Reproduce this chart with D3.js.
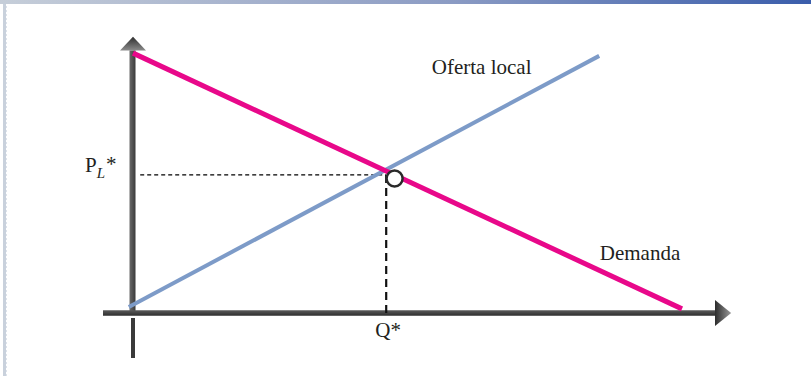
<!DOCTYPE html>
<html>
<head>
<meta charset="utf-8">
<script src="https://d3js.org/d3.v7.min.js"></script>
<style>
  body { margin: 0; background: #fff; }
  .label { font-family: "Liberation Serif", "Times New Roman", serif; fill: #231f20; }
</style>
</head>
<body>
<div id="chart"></div>
<script>
// set dimensions for frame
const FRAME_HEIGHT = 376;
const FRAME_WIDTH = 811;

// origin of the diagram (pixels) and size of one unit on each axis
const ORIGIN = {x: 133, y: 313};
const X_UNIT = 6;
const Y_UNIT = 2.75;

// data: quantity (Q) and price (P), both on a 0-100 scale
const DEMAND_Q = [0, 91.5];
const DEMAND_P = [94.5, 1.5];
const SUPPLY_Q = [-0.7, 77.7];
const SUPPLY_P = [2.2, 93.5];
const EQ_Q = 42.2;      // Q*
const EQ_P = 50.2;      // P_L*
const MARKER_Q = [43.6];  // open circle near the crossing
const MARKER_P = [48.9];
const CURVE_LABELS = ["Oferta local", "Demanda"];
const CURVE_LABEL_Q = [49.8, 77.8];
const CURVE_LABEL_P = [86.8, 19.3];

// scales
const X_SCALE = d3.scaleLinear()
        .domain([0, 100])
        .range([ORIGIN.x, ORIGIN.x + 100 * X_UNIT]);
const Y_SCALE = d3.scaleLinear()
        .domain([0, 100])
        .range([ORIGIN.y, ORIGIN.y - 100 * Y_UNIT]);

const FRAME1 = d3.select("#chart")
                  .append("svg")
                    .attr("height", FRAME_HEIGHT)
                    .attr("width", FRAME_WIDTH);

const defs = FRAME1.append("defs");

// gradient for the bar along the top
const topGrad = defs.append("linearGradient").attr("id", "topbar");
topGrad.append("stop").attr("offset", "0%").attr("stop-color", "#c6ced9");
topGrad.append("stop").attr("offset", "55%").attr("stop-color", "#8c9cc4");
topGrad.append("stop").attr("offset", "100%").attr("stop-color", "#3a5dab");

// gradients for the axes
const vGrad = defs.append("linearGradient").attr("id", "vaxis")
    .attr("x1", 0).attr("x2", 1).attr("y1", 0).attr("y2", 0);
vGrad.append("stop").attr("offset", "0%").attr("stop-color", "#6a6a6a");
vGrad.append("stop").attr("offset", "100%").attr("stop-color", "#3a3a3a");

const hGrad = defs.append("linearGradient").attr("id", "haxis")
    .attr("x1", 0).attr("x2", 0).attr("y1", 0).attr("y2", 1);
hGrad.append("stop").attr("offset", "0%").attr("stop-color", "#5a5a5a");
hGrad.append("stop").attr("offset", "100%").attr("stop-color", "#2e2e2e");

const upArrow = defs.append("linearGradient").attr("id", "uparrow")
    .attr("x1", 0).attr("x2", 0).attr("y1", 0).attr("y2", 1);
upArrow.append("stop").attr("offset", "0%").attr("stop-color", "#2c2c2c");
upArrow.append("stop").attr("offset", "100%").attr("stop-color", "#8a8a8a");

const rightArrow = defs.append("linearGradient").attr("id", "rightarrow")
    .attr("x1", 0).attr("x2", 1).attr("y1", 0).attr("y2", 0);
rightArrow.append("stop").attr("offset", "0%").attr("stop-color", "#2c2c2c");
rightArrow.append("stop").attr("offset", "100%").attr("stop-color", "#9a9a9a");

// slide decoration: top bar and dotted left border
FRAME1.append("rect")
    .attr("x", 0).attr("y", 0)
    .attr("width", FRAME_WIDTH).attr("height", 4)
    .attr("fill", "url(#topbar)");
FRAME1.append("rect")
    .attr("x", 3).attr("y", 4)
    .attr("width", 3).attr("height", FRAME_HEIGHT - 4)
    .attr("fill", "#c9d1dc");
FRAME1.append("line")
    .attr("x1", 6.5).attr("x2", 6.5)
    .attr("y1", 6).attr("y2", FRAME_HEIGHT)
    .attr("stroke", "#dde2ea")
    .attr("stroke-width", 1)
    .attr("stroke-dasharray", "2,2");

// vertical axis (price) with arrow
FRAME1.append("rect")
    .attr("x", X_SCALE(0) - 3.5).attr("y", Y_SCALE(95.5))
    .attr("width", 6).attr("height", ORIGIN.y - Y_SCALE(95.5))
    .attr("fill", "url(#vaxis)");
FRAME1.append("rect")
    .attr("x", X_SCALE(0) - 2).attr("y", ORIGIN.y + 5)
    .attr("width", 4).attr("height", 40)
    .attr("fill", "#3a3a3a");
FRAME1.append("path")
    .attr("d", "M" + (X_SCALE(0) - 13) + "," + Y_SCALE(95.5) +
               " L" + (X_SCALE(0) + 13) + "," + Y_SCALE(95.5) +
               " L" + X_SCALE(0) + "," + Y_SCALE(100.5) + " Z")
    .attr("fill", "url(#uparrow)");

// horizontal axis (quantity) with arrow
FRAME1.append("rect")
    .attr("x", X_SCALE(-5)).attr("y", ORIGIN.y - 2.75)
    .attr("width", X_SCALE(97) - X_SCALE(-5)).attr("height", 5.5)
    .attr("fill", "url(#haxis)");
FRAME1.append("path")
    .attr("d", "M" + X_SCALE(97) + "," + (ORIGIN.y - 13) +
               " L" + X_SCALE(97) + "," + (ORIGIN.y + 13) +
               " L" + X_SCALE(99.7) + "," + ORIGIN.y + " Z")
    .attr("fill", "url(#rightarrow)");

// dashed guides to the equilibrium
FRAME1.append("line")
    .attr("x1", X_SCALE(1.2)).attr("x2", X_SCALE(EQ_Q))
    .attr("y1", Y_SCALE(EQ_P)).attr("y2", Y_SCALE(EQ_P))
    .attr("stroke", "#000")
    .attr("stroke-width", 1.2)
    .attr("stroke-dasharray", "4,3");
FRAME1.append("line")
    .attr("x1", X_SCALE(EQ_Q)).attr("x2", X_SCALE(EQ_Q))
    .attr("y1", Y_SCALE(EQ_P)).attr("y2", ORIGIN.y)
    .attr("stroke", "#111")
    .attr("stroke-width", 2.2)
    .attr("stroke-dasharray", "8,5");

// curves
const line = d3.line()
    .x((d) => { return X_SCALE(d[0]); })
    .y((d) => { return Y_SCALE(d[1]); });

FRAME1.append("path")
    .datum(SUPPLY_Q.map((q, i) => [q, SUPPLY_P[i]]))
    .attr("d", line)
    .attr("fill", "none")
    .attr("stroke", "#7d9bc8")
    .attr("stroke-width", 4);

FRAME1.append("path")
    .datum(DEMAND_Q.map((q, i) => [q, DEMAND_P[i]]))
    .attr("d", line)
    .attr("fill", "none")
    .attr("stroke", "#e8088a")
    .attr("stroke-width", 5);

// open circle marker
FRAME1.selectAll("marker-pt")
    .data(MARKER_Q)
    .enter()
    .append("circle")
      .attr("cx", (d) => { return X_SCALE(d); })
      .attr("cy", (d, i) => { return Y_SCALE(MARKER_P[i]); })
      .attr("r", 8)
      .attr("fill", "#fff")
      .attr("stroke", "#2a2a2a")
      .attr("stroke-width", 2.5);

// curve labels
FRAME1.selectAll("curve-label")
    .data(CURVE_LABELS)
    .enter()
    .append("text")
      .attr("class", "label")
      .attr("x", (d, i) => { return X_SCALE(CURVE_LABEL_Q[i]); })
      .attr("y", (d, i) => { return Y_SCALE(CURVE_LABEL_P[i]); })
      .attr("font-size", "21px")
      .text((d) => { return d; });

// axis labels P_L* and Q*
const pLabel = FRAME1.append("text")
    .attr("class", "label")
    .attr("x", 85)
    .attr("y", 172)
    .attr("font-size", "21px");
pLabel.append("tspan").text("P");
pLabel.append("tspan")
    .attr("font-style", "italic")
    .attr("font-size", "15px")
    .attr("dy", 6)
    .text("L");
pLabel.append("tspan")
    .attr("dy", -7)
    .attr("dx", 1)
    .text("*");

FRAME1.append("text")
    .attr("class", "label")
    .attr("x", X_SCALE(EQ_Q) + 2)
    .attr("y", 337)
    .attr("text-anchor", "middle")
    .attr("font-size", "21px")
    .text("Q*");
</script>
</body>
</html>
